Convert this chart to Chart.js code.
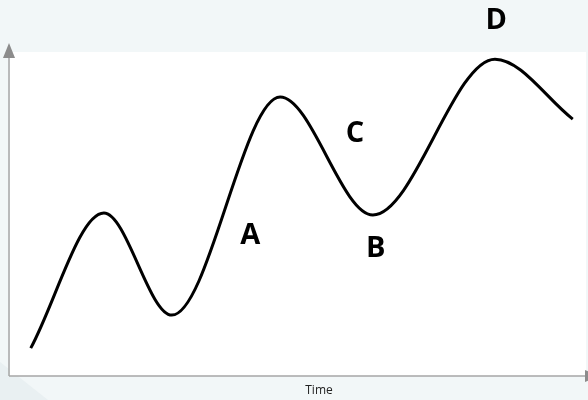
<!DOCTYPE html>
<html>
<head>
<meta charset="utf-8">
<script src="https://cdn.jsdelivr.net/npm/chart.js@4/dist/chart.umd.min.js"></script>
<style>
  html, body { margin: 0; padding: 0; background: #f2f7f8; }
  #wrap { width: 588px; height: 400px; }
</style>
</head>
<body>
<div id="wrap"><canvas id="chart" width="588" height="400"></canvas></div>
<script>
// Curve (time 0-100, value 0-100): ends, peaks and troughs
const timeValues = [3.6, 16.3, 28.1, 46.9, 63.0, 84.2, 97.7];
const curveValues = [8.6, 50.3, 18.8, 86.1, 49.7, 97.8, 79.3];

// Point labels, in the same data units
const pointLabels = ['A', 'B', 'C', 'D'];
const labelTime = [41.7, 63.5, 59.9, 84.4];
const labelValue = [43.2, 39.2, 74.7, 109.6];

const xAxisTitle = 'Time';

// backdrop, white plot area and arrow axes
const decorPlugin = {
  id: 'decor',
  beforeDraw(chart) {
    const c = chart.ctx;
    const a = chart.chartArea;
    c.save();
    c.fillStyle = '#f2f7f8';
    c.fillRect(0, 0, chart.width, chart.height);
    // faint diagonal shade bottom-left
    c.fillStyle = '#e9f0f2';
    c.beginPath();
    c.moveTo(0, 362);
    c.lineTo(48, 400);
    c.lineTo(0, 400);
    c.closePath();
    c.fill();
    c.fillStyle = '#ffffff';
    c.fillRect(a.left, a.top, a.right - a.left, a.bottom - a.top);
    c.restore();
  },
  beforeDatasetsDraw(chart) {
    const c = chart.ctx;
    const a = chart.chartArea;
    c.save();
    c.strokeStyle = '#a6a6a6';
    c.lineWidth = 1.5;
    c.beginPath();
    c.moveTo(a.left - 1, a.bottom);
    c.lineTo(a.left - 1, a.top - 4);
    c.moveTo(a.left - 1, a.bottom);
    c.lineTo(a.right, a.bottom);
    c.stroke();
    c.fillStyle = '#8c8c8c';
    // up arrow
    c.beginPath();
    c.moveTo(a.left - 1, a.top - 9);
    c.lineTo(a.left - 7, a.top + 6);
    c.lineTo(a.left + 5, a.top + 6);
    c.closePath();
    c.fill();
    // right arrow
    c.beginPath();
    c.moveTo(a.right + 14, a.bottom);
    c.lineTo(a.right - 1, a.bottom - 6);
    c.lineTo(a.right - 1, a.bottom + 6);
    c.closePath();
    c.fill();
    c.restore();
  },
  afterDraw(chart) {
    const c = chart.ctx;
    const xs = chart.scales.x;
    const ys = chart.scales.y;
    c.save();
    c.fillStyle = '#000000';
    c.textAlign = 'center';
    c.textBaseline = 'middle';
    c.font = 'bold 29px "Open Sans", sans-serif';
    pointLabels.forEach((t, i) => {
      c.fillText(t, xs.getPixelForValue(labelTime[i]), ys.getPixelForValue(labelValue[i]));
    });
    c.fillStyle = '#222222';
    c.font = '12px "Open Sans", sans-serif';
    c.fillText(xAxisTitle, 319, 391);
    c.restore();
  }
};

const ctx = document.getElementById('chart').getContext('2d');
const chart = new Chart(ctx, {
  type: 'line',
  data: {
    datasets: [
      {
        data: timeValues.map((t, i) => ({ x: t, y: curveValues[i] })),
        borderColor: '#000000',
        borderWidth: 3,
        pointRadius: 0,
        fill: false,
        cubicInterpolationMode: 'monotone'
      }
    ]
  },
  options: {
    responsive: false,
    animation: false,
    devicePixelRatio: 1,
    layout: { padding: { left: 10, right: 2, top: 52, bottom: 24 } },
    plugins: { legend: { display: false }, tooltip: { enabled: false } },
    scales: {
      x: { type: 'linear', min: 0, max: 100, display: false },
      y: { type: 'linear', min: 0, max: 100, display: false }
    }
  },
  plugins: [decorPlugin]
});
</script>
</body>
</html>
